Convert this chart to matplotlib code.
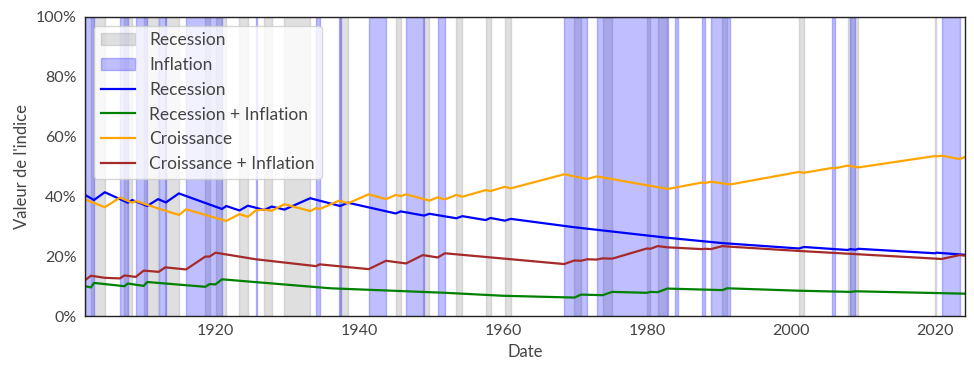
import matplotlib
matplotlib.use('Agg')
import matplotlib.pyplot as plt
import matplotlib.patches as mpatches
from matplotlib.lines import Line2D
from matplotlib.ticker import PercentFormatter

plt.rcParams['font.family'] = ['Lato', 'DejaVu Sans']

# Periodes de recession (annees decimales)
recessions = [(1902.67, 1904.58), (1907.33, 1908.42), (1910.0, 1912.0), (1913.0, 1914.92),
              (1918.58, 1919.17), (1920.0, 1921.5), (1923.33, 1924.5), (1926.75, 1927.83),
              (1929.58, 1933.17), (1937.33, 1938.42), (1945.08, 1945.75), (1948.83, 1949.75),
              (1953.5, 1954.33), (1957.58, 1958.25), (1960.25, 1961.08), (1969.92, 1970.83),
              (1973.83, 1975.17), (1980.0, 1980.5), (1981.5, 1982.83), (1990.5, 1991.17),
              (2001.17, 2001.83), (2007.92, 2009.42), (2020.08, 2020.25)]

# Periodes d'inflation
inflations = [(1901.85, 1903.1), (1906.7, 1907.8), (1908.9, 1910.5), (1912.1, 1913.1),
              (1915.9, 1920.9), (1925.6, 1925.75), (1934.0, 1934.5), (1937.2, 1937.45),
              (1941.3, 1943.7), (1946.5, 1949.0), (1950.9, 1951.9), (1968.5, 1971.7),
              (1973.0, 1982.9), (1983.9, 1984.3), (1987.6, 1988.1), (1988.9, 1991.6),
              (2005.7, 2006.1), (2008.3, 2009.0), (2021.0, 2023.5)]

# Indice "Recession"
t_rec = [1901.85, 1903.1, 1904.6, 1907.8, 1908.4, 1910.5, 1912.0, 1913.1, 1914.9, 1920.9,
         1921.5, 1923.33, 1924.5, 1926.75, 1927.83, 1929.58, 1933.17, 1937.33, 1938.42,
         1945.08, 1945.75, 1949.0, 1949.75, 1953.5, 1954.33, 1957.58, 1958.25, 1960.25,
         1961.08, 1969.9, 1982.8, 1990.5, 2001.17, 2001.83, 2007.92, 2008.3, 2009.0,
         2009.42, 2020.08, 2020.25, 2024.25]
v_rec = [40.5, 38.8, 41.4, 37.9, 38.8, 36.8, 39.1, 38.0, 41.0, 35.8,
         36.8, 35.3, 36.9, 35.5, 36.6, 35.6, 39.4, 36.8, 37.9,
         34.3, 35.0, 33.6, 34.2, 32.7, 33.4, 32.1, 32.8, 31.9,
         32.5, 29.7, 26.2, 24.4, 22.6, 23.1, 22.1, 22.4, 22.2,
         22.5, 21.0, 21.2, 20.5]

# Indice "Recession + Inflation"
t_ri = [1901.85, 1902.67, 1903.1, 1907.33, 1907.8, 1910.0, 1910.5, 1918.58, 1919.17, 1920.0,
        1920.9, 1936.0, 1951.9, 1960.0, 1969.92, 1970.83, 1973.83, 1975.17, 1980.0, 1980.5,
        1981.5, 1982.83, 1990.5, 1991.17, 2001.0, 2008.3, 2009.0, 2024.25]
v_ri = [10.0, 9.6, 11.1, 10.0, 10.9, 10.1, 11.4, 9.8, 10.7, 10.6,
        12.3, 9.3, 7.8, 6.8, 6.2, 7.2, 7.0, 8.1, 7.8, 8.1,
        8.0, 9.2, 8.7, 9.3, 8.5, 8.1, 8.3, 7.5]

# Indice "Croissance"
t_cr = [1901.85, 1904.6, 1906.7, 1908.42, 1908.9, 1912.0, 1914.92, 1915.9, 1921.5, 1923.33,
        1924.5, 1925.6, 1926.75, 1927.83, 1929.58, 1933.17, 1934.0, 1934.5, 1937.2, 1938.42,
        1941.3, 1943.7, 1945.08, 1945.75, 1946.5, 1949.75, 1950.9, 1951.9, 1953.5, 1954.33,
        1957.58, 1958.25, 1960.25, 1961.08, 1968.5, 1971.7, 1973.0, 1982.9, 1987.6, 1988.1,
        1988.9, 1991.6, 2001.17, 2001.83, 2005.7, 2006.1, 2007.92, 2009.42, 2020.08, 2020.25,
        2021.0, 2023.5, 2024.25]
v_cr = [39.0, 36.4, 39.6, 37.9, 38.5, 36.0, 33.8, 35.7, 31.8, 34.1,
        33.2, 35.3, 35.6, 35.2, 37.4, 35.1, 36.1, 35.8, 38.6, 37.7,
        40.7, 39.1, 40.5, 40.1, 40.7, 38.6, 39.7, 39.0, 40.5, 39.9,
        42.1, 41.8, 43.2, 42.7, 47.4, 45.8, 46.7, 42.5, 44.6, 44.5,
        44.9, 44.0, 48.2, 47.9, 49.5, 49.4, 50.3, 49.7, 53.5, 53.4,
        53.6, 52.5, 53.2]

# Indice "Croissance + Inflation"
t_ci = [1901.85, 1902.67, 1904.6, 1906.7, 1907.33, 1908.9, 1910.0, 1912.1, 1913.0, 1915.9,
        1918.58, 1919.17, 1920.0, 1925.6, 1934.0, 1934.5, 1941.3, 1943.7, 1946.5, 1948.83,
        1950.9, 1951.9, 1968.5, 1969.92, 1970.83, 1971.7, 1973.0, 1973.83, 1975.17, 1980.0,
        1980.5, 1981.5, 1982.83, 1987.6, 1988.1, 1988.9, 1990.5, 1991.6, 2001.0, 2021.0,
        2023.5, 2024.25]
v_ci = [12.0, 13.5, 12.8, 12.6, 13.6, 13.1, 15.2, 14.8, 16.3, 15.6,
        19.9, 19.9, 21.2, 19.0, 16.7, 17.3, 15.7, 18.5, 17.6, 20.4,
        19.6, 21.0, 17.4, 18.6, 18.5, 19.0, 18.9, 19.3, 19.2, 22.6,
        22.5, 23.4, 23.0, 22.4, 22.5, 22.4, 23.4, 23.2, 21.8, 19.1,
        20.4, 20.2]

fig, ax = plt.subplots(figsize=(9.74, 3.75), dpi=100)
fig.subplots_adjust(left=0.0873, right=0.9908, bottom=0.157, top=0.955)

for debut, fin in recessions:
    ax.axvspan(debut, fin, color='gray', alpha=0.25)
for debut, fin in inflations:
    ax.axvspan(debut, fin, color='blue', alpha=0.25)

ax.plot(t_rec, v_rec, color='blue', linewidth=1.6)
ax.plot(t_ri, v_ri, color='green', linewidth=1.6)
ax.plot(t_cr, v_cr, color='orange', linewidth=1.6)
ax.plot(t_ci, v_ci, color='brown', linewidth=1.6)

ax.set_xlim(1901.85, 2024.25)
ax.set_ylim(0, 100)
ax.set_xticks([1920, 1940, 1960, 1980, 2000, 2020])
ax.set_yticks([0, 20, 40, 60, 80, 100])
ax.yaxis.set_major_formatter(PercentFormatter(decimals=0))
ax.tick_params(length=0, labelsize=11.5, colors='#444444', pad=6)
for s in ax.spines.values():
    s.set_color('#222222')
    s.set_linewidth(1.0)

ax.set_xlabel('Date', fontsize=12, color='#444444')
ax.set_ylabel("Valeur de l'indice", fontsize=12, color='#444444')

handles = [mpatches.Patch(color='gray', alpha=0.25),
           mpatches.Patch(color='blue', alpha=0.25),
           Line2D([0], [0], color='blue', linewidth=1.6),
           Line2D([0], [0], color='green', linewidth=1.6),
           Line2D([0], [0], color='orange', linewidth=1.6),
           Line2D([0], [0], color='brown', linewidth=1.6)]
labels = ['Recession', 'Inflation', 'Recession', 'Recession + Inflation',
          'Croissance', 'Croissance + Inflation']
leg = ax.legend(handles, labels, loc='upper left', fontsize=12.5, framealpha=0.8,
                borderaxespad=0.5, labelcolor='#444444')

fig.savefig('out.png', dpi=100)
